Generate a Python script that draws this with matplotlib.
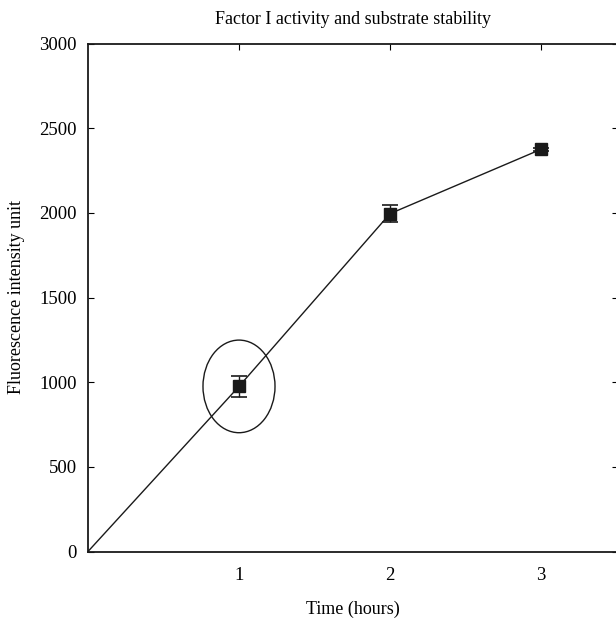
import matplotlib.pyplot as plt
from matplotlib.patches import Ellipse

# data
time_h = [0, 1, 2, 3]
fluorescence = [0, 975, 1995, 2375]
err = [0, 60, 52, 8]

plt.rcParams['font.family'] = ['Liberation Serif', 'DejaVu Serif']

fig = plt.figure(figsize=(6.16, 6.2), dpi=100)
ax = fig.add_axes([88 / 616, 68.5 / 620, 530 / 616, 508 / 620])

ax.plot(time_h, fluorescence, color='#1a1a1a', linewidth=1.0, zorder=2)
ax.errorbar(time_h[1:], fluorescence[1:], yerr=err[1:], fmt='s', color='#1a1a1a',
            markersize=8, capsize=6, elinewidth=1.0, capthick=1.2, zorder=3)

# circle around the first measurement
ax.add_patch(Ellipse((1.0, 975), width=0.477, height=547, fill=False,
                     edgecolor='#1a1a1a', linewidth=1.0, zorder=1))

ax.set_xlim(0, 3.51)
ax.set_ylim(0, 3000)
ax.set_xticks([1, 2, 3])
ax.set_yticks([0, 500, 1000, 1500, 2000, 2500, 3000])

ax.tick_params(axis='x', which='both', bottom=False, top=True, direction='in',
               length=4, labelsize=13.5, pad=11)
ax.tick_params(axis='y', which='both', left=True, right=True, direction='in',
               length=4, labelsize=13.5, pad=8)
for s in ax.spines.values():
    s.set_linewidth(1.3)
    s.set_color('#1a1a1a')

ax.set_title("Factor I activity and substrate stability", fontsize=13, pad=14)
ax.set_xlabel("Time (hours)", fontsize=13, labelpad=12)
ax.set_ylabel("Fluorescence intensity unit", fontsize=13, labelpad=10)

fig.savefig("out.png", dpi=100)
